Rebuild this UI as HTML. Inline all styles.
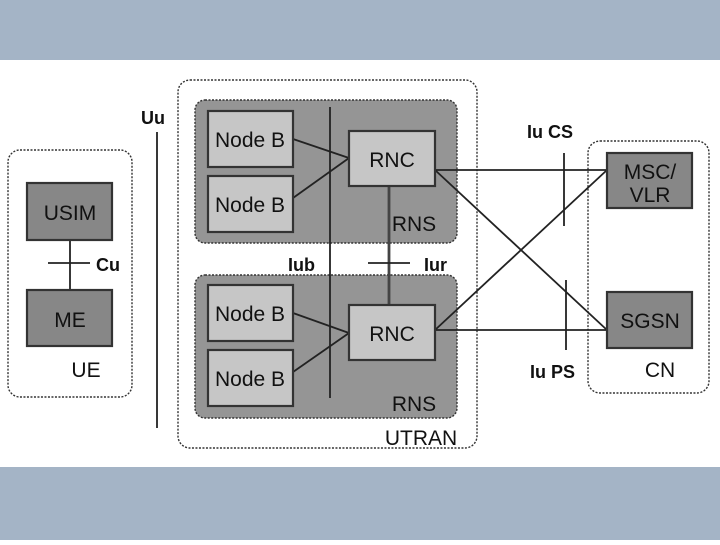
<!DOCTYPE html>
<html><head><style>
body{margin:0;width:720px;height:540px;background:#fff;overflow:hidden;font-family:"Liberation Sans",sans-serif}
</style></head><body>
<svg width="720" height="540" xmlns="http://www.w3.org/2000/svg" font-family="Liberation Sans, sans-serif">
<rect x="0" y="0" width="720" height="60" fill="#a4b4c6"/>
<rect x="0" y="467" width="720" height="73" fill="#a4b4c6"/>
<g fill="none" stroke="#333" stroke-width="1.4" stroke-dasharray="2,1.5">
<rect x="8" y="150" width="124" height="247" rx="12"/>
<rect x="178" y="80" width="299" height="368" rx="12"/>
<rect x="588" y="141" width="121" height="252" rx="12"/>
</g>
<g fill="#959595" stroke="#333" stroke-width="1.4" stroke-dasharray="2,1.5">
<rect x="195" y="100" width="262" height="143" rx="10"/>
<rect x="195" y="275" width="262" height="143" rx="10"/>
</g>
<g stroke="#222" stroke-width="1.8" fill="none">
<line x1="70" y1="240" x2="70" y2="290"/><line x1="48" y1="263" x2="90" y2="263"/>
<line x1="157" y1="132" x2="157" y2="428"/>
<line x1="330" y1="107" x2="330" y2="398"/>
<line x1="389" y1="186" x2="389" y2="305" stroke="#444" stroke-width="2.8"/>
<line x1="368" y1="263" x2="410" y2="263"/>
<line x1="293" y1="139" x2="349" y2="158"/><line x1="293" y1="198" x2="349" y2="158"/>
<line x1="293" y1="313" x2="349" y2="333"/><line x1="293" y1="372" x2="349" y2="333"/>
<line x1="435" y1="170" x2="607" y2="170"/><line x1="435" y1="170" x2="607" y2="330"/>
<line x1="435" y1="330" x2="607" y2="330"/><line x1="435" y1="330" x2="607" y2="170"/>
<line x1="564" y1="153" x2="564" y2="226"/><line x1="566" y1="280" x2="566" y2="350"/>
</g>
<g stroke="#333" stroke-width="2.2">
<rect x="27" y="183" width="85" height="57" fill="#878787"/>
<rect x="27" y="290" width="85" height="56" fill="#878787"/>
<rect x="607" y="153" width="85" height="55" fill="#878787"/>
<rect x="607" y="292" width="85" height="56" fill="#878787"/>
<rect x="208" y="111" width="85" height="56" fill="#c6c6c6"/>
<rect x="208" y="176" width="85" height="56" fill="#c6c6c6"/>
<rect x="208" y="285" width="85" height="56" fill="#c6c6c6"/>
<rect x="208" y="350" width="85" height="56" fill="#c6c6c6"/>
<rect x="349" y="131" width="86" height="55" fill="#c6c6c6"/>
<rect x="349" y="305" width="86" height="55" fill="#c6c6c6"/>
</g>
<g font-size="21" fill="#111" text-anchor="middle">
<text x="70" y="220">USIM</text><text x="70" y="327">ME</text>
<text x="86" y="377">UE</text>
<text x="250" y="147">Node B</text><text x="250" y="212">Node B</text>
<text x="250" y="321">Node B</text><text x="250" y="386">Node B</text>
<text x="392" y="167">RNC</text><text x="392" y="341">RNC</text>
<text x="414" y="231">RNS</text><text x="414" y="411">RNS</text>
<text x="421" y="445">UTRAN</text>
<text x="650" y="179">MSC/</text><text x="650" y="202">VLR</text>
<text x="650" y="328">SGSN</text><text x="660" y="377">CN</text>
</g>
<g font-size="18" font-weight="bold" fill="#111">
<text x="96" y="271">Cu</text><text x="141" y="124">Uu</text>
<text x="288" y="271">Iub</text><text x="424" y="271">Iur</text>
<text x="527" y="138">Iu CS</text><text x="530" y="378">Iu PS</text>
</g>
</svg>
</body></html>
